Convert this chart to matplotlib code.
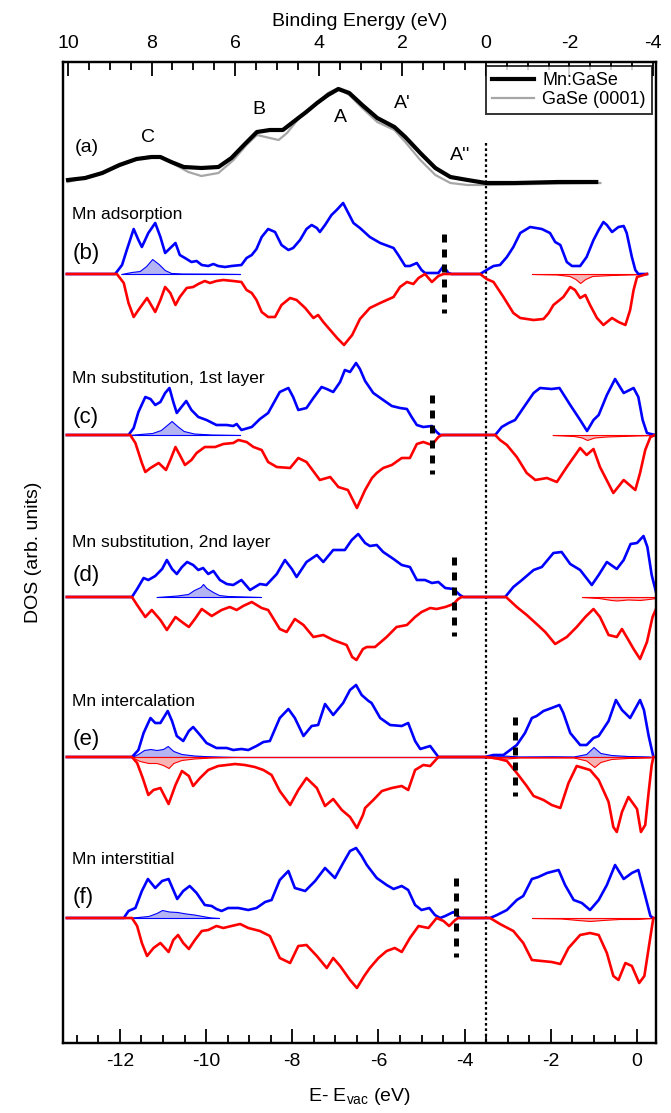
import matplotlib
matplotlib.use('Agg')
import matplotlib.pyplot as plt
import numpy as np
from matplotlib.ticker import MultipleLocator

plt.rcParams['font.family'] = ['Liberation Sans', 'DejaVu Sans']
plt.rcParams['mathtext.default'] = 'regular'
plt.rcParams['axes.unicode_minus'] = False

# ---- photoemission spectra (binding energy, intensity) ----
mngase = [(10.0, 6), (9.59, 8), (9.18, 13), (8.77, 21), (8.36, 27), (8.00, 29), (7.79, 29),
          (7.53, 24), (7.23, 19), (6.81, 18), (6.40, 19), (6.09, 28), (5.79, 41), (5.48, 54),
          (5.17, 56), (4.86, 56), (4.55, 66), (4.30, 74), (4.04, 83), (3.78, 91), (3.53, 97),
          (3.27, 93), (2.96, 81), (2.60, 68), (2.19, 59), (1.93, 49), (1.57, 33), (1.21, 18),
          (0.85, 9), (0.44, 6), (0.0, 3), (-0.69, 3), (-1.72, 4), (-2.64, 4)]
gase = [(10.0, 4), (9.18, 13), (8.36, 27), (8.00, 30), (7.74, 29), (7.43, 21), (7.12, 14),
        (6.81, 10), (6.40, 13), (6.04, 26), (5.73, 41), (5.48, 51), (5.17, 48), (4.96, 46),
        (4.76, 53), (4.45, 69), (4.04, 83), (3.78, 93), (3.53, 98), (3.27, 91), (2.96, 78),
        (2.60, 64), (2.19, 56), (1.93, 44), (1.57, 26), (1.21, 11), (0.85, 3), (0.44, 1),
        (0.0, 1), (-1.20, 2), (-2.74, 3)]

# ---- DOS: (E - Evac, value) ; up = spin up (blue), dn = spin down (red) ----
b_up = [(-13.23, 0), (-12.11, 0), (-11.95, 9), (-11.84, 24), (-11.68, 45), (-11.57, 34), (-11.49, 27),
        (-11.34, 41), (-11.18, 51), (-11.06, 37), (-10.95, 21), (-10.83, 26), (-10.71, 31), (-10.61, 19),
        (-10.49, 16), (-10.34, 12), (-10.22, 13), (-10.10, 9), (-9.95, 8), (-9.83, 10), (-9.72, 8),
        (-9.56, 7), (-9.41, 8), (-9.18, 9), (-9.06, 16), (-8.94, 19), (-8.83, 25), (-8.71, 37),
        (-8.56, 45), (-8.40, 42), (-8.25, 29), (-8.09, 24), (-7.98, 26), (-7.82, 34), (-7.67, 45),
        (-7.55, 49), (-7.43, 46), (-7.36, 42), (-7.24, 49), (-7.09, 59), (-6.97, 64), (-6.82, 71),
        (-6.70, 61), (-6.58, 51), (-6.43, 46), (-6.20, 37), (-5.96, 31), (-5.65, 26), (-5.54, 19),
        (-5.38, 8), (-5.27, 8), (-5.11, 11), (-5.00, 4), (-4.92, 1), (-4.61, 1), (-4.49, 8),
        (-4.38, 1), (-4.30, 0), (-3.64, 0), (-3.49, 4), (-3.33, 8), (-3.18, 9), (-3.02, 17),
        (-2.87, 27), (-2.71, 41), (-2.48, 47), (-2.21, 45), (-2.02, 41), (-1.90, 32), (-1.78, 29),
        (-1.63, 12), (-1.51, 8), (-1.32, 8), (-1.17, 17), (-1.01, 34), (-0.89, 44), (-0.78, 52),
        (-0.70, 49), (-0.58, 42), (-0.43, 47), (-0.31, 48), (-0.24, 41), (-0.12, 17), (-0.04, 4),
        (0.03, 0), (0.23, 0)]
b_dn = [(-13.23, 0), (-12.07, 0), (-11.91, -9), (-11.80, -29), (-11.68, -43), (-11.57, -36), (-11.37, -24),
        (-11.18, -38), (-11.06, -26), (-10.95, -13), (-10.83, -19), (-10.71, -31), (-10.61, -23),
        (-10.45, -14), (-10.30, -13), (-10.18, -10), (-10.03, -7), (-9.91, -9), (-9.76, -7), (-9.60, -6),
        (-9.37, -7), (-9.18, -8), (-9.06, -16), (-8.94, -19), (-8.83, -26), (-8.71, -38), (-8.56, -43),
        (-8.40, -43), (-8.25, -31), (-8.05, -24), (-7.90, -26), (-7.70, -34), (-7.51, -44), (-7.40, -41),
        (-7.28, -48), (-7.12, -56), (-6.96, -64), (-6.80, -71), (-6.61, -61), (-6.43, -45), (-6.20, -34),
        (-5.96, -29), (-5.65, -23), (-5.50, -13), (-5.34, -8), (-5.19, -10), (-5.07, -4), (-4.92, 0),
        (-4.76, -8), (-4.61, -2), (-4.49, 0), (-3.64, 0), (-3.49, -5), (-3.33, -8), (-3.10, -23),
        (-2.87, -39), (-2.71, -44), (-2.40, -46), (-2.17, -45), (-2.05, -39), (-1.94, -31), (-1.71, -23),
        (-1.55, -13), (-1.44, -16), (-1.32, -24), (-1.20, -21), (-1.09, -31), (-0.93, -44), (-0.78, -51),
        (-0.58, -44), (-0.43, -48), (-0.27, -51), (-0.16, -36), (-0.08, -16), (0.00, -3), (0.23, 0)]
b_mn_up = [(-11.97, 0), (-11.73, 2), (-11.54, 3), (-11.39, 8), (-11.25, 15), (-11.10, 10), (-10.96, 4),
           (-10.81, 1), (-10.57, 0.5), (-9.70, 0.3), (-9.21, 0)]
b_mn_dn = [(-2.44, 0), (-1.86, -0.5), (-1.57, -2), (-1.43, -5), (-1.32, -9), (-1.20, -5), (-1.04, -2),
           (-0.60, -1), (-0.02, -0.3), (0.23, 0)]

c_up = [(-13.23, 0), (-11.80, 0), (-11.68, 7), (-11.57, 23), (-11.41, 38), (-11.29, 36), (-11.18, 30),
        (-11.06, 33), (-10.95, 42), (-10.85, 47), (-10.76, 33), (-10.68, 22), (-10.59, 27), (-10.46, 34),
        (-10.34, 25), (-10.18, 18), (-9.99, 15), (-9.76, 10), (-9.52, 10), (-9.37, 9), (-9.29, 11),
        (-9.18, 5), (-8.94, 8), (-8.75, 16), (-8.56, 22), (-8.29, 43), (-8.09, 47), (-7.98, 38),
        (-7.86, 25), (-7.67, 27), (-7.51, 37), (-7.32, 48), (-7.20, 46), (-7.05, 43), (-6.89, 53),
        (-6.78, 65), (-6.66, 63), (-6.52, 72), (-6.43, 66), (-6.31, 54), (-6.12, 42), (-5.89, 35),
        (-5.69, 29), (-5.50, 27), (-5.34, 26), (-5.23, 18), (-5.11, 10), (-4.96, 8), (-4.76, 9),
        (-4.65, 3), (-4.57, 0), (-3.29, 0), (-3.14, 8), (-2.98, 12), (-2.83, 15), (-2.64, 27),
        (-2.40, 42), (-2.25, 47), (-1.98, 46), (-1.80, 47), (-1.55, 30), (-1.32, 15), (-1.16, 4),
        (-1.01, 15), (-0.89, 20), (-0.70, 40), (-0.51, 56), (-0.31, 42), (-0.08, 47), (0.03, 38),
        (0.13, 15), (0.23, 2), (0.42, 0)]
c_dn = [(-13.23, 0), (-11.76, 0), (-11.64, -8), (-11.49, -28), (-11.41, -37), (-11.29, -33), (-11.10, -28),
        (-10.93, -35), (-10.83, -25), (-10.71, -12), (-10.61, -20), (-10.49, -30), (-10.34, -25),
        (-10.22, -18), (-10.03, -12), (-9.79, -12), (-9.60, -9), (-9.37, -8), (-9.25, -5), (-9.06, -7),
        (-8.90, -12), (-8.71, -15), (-8.56, -27), (-8.36, -32), (-8.05, -33), (-7.86, -23), (-7.67, -27),
        (-7.36, -45), (-7.12, -42), (-6.93, -52), (-6.71, -55), (-6.50, -73), (-6.31, -55), (-6.15, -43),
        (-6.04, -38), (-5.89, -33), (-5.69, -30), (-5.46, -23), (-5.27, -23), (-5.11, -9), (-4.96, -7),
        (-4.76, -10), (-4.61, -2), (-4.53, 0), (-3.29, 0), (-3.18, -5), (-3.02, -10), (-2.79, -22),
        (-2.56, -38), (-2.36, -45), (-2.09, -43), (-1.86, -47), (-1.63, -32), (-1.32, -13), (-1.17, -20),
        (-1.01, -14), (-0.86, -32), (-0.55, -58), (-0.31, -45), (-0.04, -55), (0.07, -38), (0.19, -15),
        (0.31, -2), (0.42, 0)]
c_mn_up = [(-11.78, 0), (-11.54, 1), (-11.25, 2), (-11.05, 5), (-10.91, 10), (-10.80, 14), (-10.67, 9),
           (-10.52, 4), (-10.28, 1.5), (-9.89, 0.5), (-9.21, 0)]
c_mn_dn = [(-1.96, 0), (-1.47, -1), (-1.28, -2.5), (-1.16, -5), (-0.99, -2.5), (-0.70, -1.5),
           (-0.02, -0.5), (0.42, 0)]

d_up = [(-13.23, 0), (-11.72, 0), (-11.60, 8), (-11.45, 19), (-11.34, 17), (-11.18, 21), (-11.02, 28),
        (-10.91, 37), (-10.79, 28), (-10.68, 23), (-10.56, 30), (-10.44, 35), (-10.30, 32), (-10.18, 27),
        (-10.07, 29), (-9.95, 23), (-9.83, 26), (-9.68, 17), (-9.52, 13), (-9.37, 12), (-9.18, 17),
        (-8.98, 7), (-8.75, 13), (-8.60, 12), (-8.36, 23), (-8.17, 37), (-8.01, 28), (-7.90, 20),
        (-7.67, 35), (-7.43, 42), (-7.28, 35), (-7.05, 47), (-6.78, 47), (-6.62, 57), (-6.47, 63),
        (-6.31, 54), (-6.20, 51), (-6.04, 52), (-5.89, 45), (-5.65, 38), (-5.46, 32), (-5.27, 30),
        (-5.11, 17), (-4.92, 17), (-4.76, 14), (-4.61, 15), (-4.45, 9), (-4.26, 8), (-4.11, 2),
        (-4.03, 0), (-3.06, 0), (-2.87, 10), (-2.67, 17), (-2.40, 27), (-2.21, 30), (-1.94, 44),
        (-1.75, 45), (-1.55, 33), (-1.32, 27), (-1.05, 12), (-0.89, 22), (-0.70, 35), (-0.47, 28),
        (-0.31, 37), (-0.15, 53), (0.00, 54), (0.15, 61), (0.24, 50), (0.34, 22), (0.44, 5)]
d_dn = [(-13.23, 0), (-11.72, 0), (-11.60, -8), (-11.41, -20), (-11.26, -13), (-11.06, -23), (-10.91, -33),
        (-10.71, -20), (-10.56, -25), (-10.40, -30), (-10.26, -22), (-10.10, -12), (-9.87, -19),
        (-9.64, -13), (-9.45, -10), (-9.29, -13), (-9.14, -9), (-8.94, -5), (-8.71, -11), (-8.56, -13),
        (-8.29, -32), (-8.13, -35), (-7.94, -22), (-7.74, -28), (-7.51, -40), (-7.28, -38), (-7.05, -43),
        (-6.74, -48), (-6.61, -60), (-6.51, -63), (-6.36, -52), (-6.27, -50), (-6.08, -50), (-5.81, -40),
        (-5.58, -30), (-5.34, -28), (-5.15, -20), (-5.00, -15), (-4.80, -11), (-4.65, -12), (-4.45, -10),
        (-4.26, -7), (-4.15, -2), (-4.07, 0), (-3.04, 0), (-2.79, -10), (-2.56, -18), (-2.33, -27),
        (-2.13, -35), (-1.90, -47), (-1.63, -40), (-1.40, -30), (-1.20, -20), (-1.01, -12), (-0.86, -20),
        (-0.66, -38), (-0.47, -40), (-0.35, -32), (-0.20, -43), (-0.08, -52), (0.07, -62), (0.23, -45),
        (0.36, -20), (0.44, -12)]
d_mn_up = [(-11.15, 0), (-10.67, 1.5), (-10.42, 3), (-10.28, 7), (-10.13, 10), (-10.07, 13), (-9.99, 9),
           (-9.84, 5), (-9.70, 2), (-9.50, 1), (-9.12, 0.5), (-8.73, 0)]
d_mn_dn = [(-1.28, 0), (-0.89, -1), (-0.60, -3), (-0.47, -3.5), (-0.22, -2.5), (0.07, -3), (0.27, -2),
           (0.44, -1)]

e_up = [(-13.23, 0), (-11.72, 0), (-11.57, 7), (-11.45, 24), (-11.29, 39), (-11.18, 34), (-11.06, 34),
        (-10.89, 46), (-10.79, 36), (-10.68, 21), (-10.53, 16), (-10.40, 26), (-10.30, 30), (-10.14, 22),
        (-9.99, 14), (-9.76, 9), (-9.52, 9), (-9.37, 7), (-9.18, 8), (-9.02, 7), (-8.83, 11), (-8.67, 15),
        (-8.52, 16), (-8.29, 39), (-8.09, 48), (-7.94, 39), (-7.74, 21), (-7.55, 31), (-7.40, 32),
        (-7.24, 53), (-7.05, 42), (-6.82, 54), (-6.66, 67), (-6.52, 72), (-6.39, 62), (-6.23, 56),
        (-6.16, 54), (-5.96, 39), (-5.73, 32), (-5.46, 31), (-5.31, 34), (-5.15, 16), (-5.03, 8),
        (-4.80, 11), (-4.61, 0), (-3.53, 0), (-3.33, 2), (-3.10, 2), (-2.79, 12), (-2.60, 24),
        (-2.44, 39), (-2.33, 41), (-2.17, 46), (-1.98, 49), (-1.80, 52), (-1.71, 44), (-1.55, 24),
        (-1.32, 12), (-1.17, 12), (-1.01, 19), (-0.89, 21), (-0.66, 36), (-0.49, 57), (-0.35, 47),
        (-0.16, 39), (0.07, 57), (0.16, 47), (0.27, 21), (0.38, 0)]
e_dn = [(-13.23, 0), (-11.72, 0), (-11.60, -6), (-11.47, -21), (-11.34, -38), (-11.22, -33), (-11.06, -31),
        (-10.87, -47), (-10.71, -28), (-10.56, -14), (-10.40, -19), (-10.30, -29), (-10.14, -21),
        (-9.95, -13), (-9.72, -9), (-9.52, -8), (-9.33, -7), (-9.10, -8), (-8.87, -10), (-8.67, -13),
        (-8.48, -18), (-8.29, -34), (-8.05, -48), (-7.86, -33), (-7.67, -21), (-7.43, -31), (-7.24, -49),
        (-7.05, -42), (-6.85, -53), (-6.66, -60), (-6.50, -71), (-6.36, -58), (-6.31, -51), (-6.12, -43),
        (-5.92, -34), (-5.69, -31), (-5.46, -29), (-5.31, -33), (-5.15, -13), (-4.96, -8), (-4.80, -9),
        (-4.61, 0), (-3.53, 0), (-3.29, -1), (-3.02, -4), (-2.79, -16), (-2.56, -29), (-2.40, -39),
        (-2.17, -43), (-1.98, -48), (-1.78, -51), (-1.59, -26), (-1.40, -9), (-1.09, -13), (-0.89, -23),
        (-0.66, -45), (-0.55, -70), (-0.47, -75), (-0.35, -55), (-0.20, -40), (0.00, -52), (0.09, -75),
        (0.19, -68), (0.27, -35), (0.34, -8), (0.38, 0)]
e_mn_up = [(-11.73, 0), (-11.58, 3), (-11.44, 7), (-11.29, 8), (-11.15, 7), (-11.00, 8), (-10.89, 11),
           (-10.76, 6), (-10.57, 3), (-10.28, 1.5), (-9.99, 0.8), (-9.60, 0.3), (-9.21, 0),
           (-3.51, 0), (-3.31, 1.5), (-3.02, 1.3), (-2.73, 0.5), (-1.96, 0.7), (-1.47, 0.5), (-1.18, 3),
           (-1.01, 10), (-0.85, 4), (-0.60, 2), (-0.22, 1), (0.27, 0.5), (0.38, 0)]
e_mn_dn = [(-11.73, 0), (-11.54, -4), (-11.34, -6), (-11.15, -6), (-11.00, -8), (-10.87, -11),
           (-10.76, -6), (-10.57, -3), (-10.28, -1.5), (-9.89, -0.5), (-9.31, 0),
           (-3.51, 0), (-3.31, -1.5), (-3.02, -1.5), (-2.73, -0.5), (-1.96, -0.5), (-1.47, -0.5),
           (-1.18, -3.5), (-0.99, -10), (-0.85, -5), (-0.60, -2), (-0.22, -1), (0.27, -0.5), (0.38, 0)]

f_up = [(-13.23, 0), (-11.91, 0), (-11.80, 7), (-11.64, 10), (-11.49, 27), (-11.35, 39), (-11.18, 30),
        (-11.02, 37), (-10.87, 39), (-10.76, 28), (-10.67, 19), (-10.53, 27), (-10.38, 32), (-10.22, 25),
        (-10.03, 13), (-9.87, 12), (-9.76, 9), (-9.64, 7), (-9.49, 10), (-9.25, 10), (-9.02, 8),
        (-8.83, 10), (-8.63, 16), (-8.48, 18), (-8.29, 38), (-8.09, 47), (-7.94, 30), (-7.70, 27),
        (-7.47, 37), (-7.24, 50), (-7.01, 40), (-6.82, 55), (-6.66, 67), (-6.52, 70), (-6.39, 62),
        (-6.27, 53), (-6.04, 40), (-5.81, 33), (-5.65, 29), (-5.46, 32), (-5.31, 28), (-5.15, 13),
        (-5.00, 8), (-4.82, 10), (-4.69, 3), (-4.57, 0), (-4.45, 2), (-4.26, 6), (-4.11, 0), (-3.41, 0),
        (-3.25, 3), (-3.02, 8), (-2.79, 18), (-2.64, 22), (-2.44, 39), (-2.29, 41), (-2.09, 45),
        (-1.82, 48), (-1.67, 33), (-1.47, 18), (-1.28, 15), (-1.09, 8), (-0.89, 18), (-0.70, 33),
        (-0.51, 53), (-0.31, 39), (-0.12, 45), (0.03, 48), (0.19, 22), (0.31, 2), (0.38, 0)]
f_dn = [(-13.23, 0), (-11.72, 0), (-11.60, -8), (-11.49, -25), (-11.37, -38), (-11.22, -30), (-11.06, -25),
        (-10.87, -34), (-10.76, -22), (-10.65, -17), (-10.53, -25), (-10.40, -31), (-10.26, -22),
        (-10.10, -13), (-9.95, -12), (-9.76, -8), (-9.60, -10), (-9.41, -8), (-9.21, -6), (-9.02, -10),
        (-8.75, -13), (-8.52, -18), (-8.29, -40), (-8.05, -45), (-7.86, -28), (-7.67, -27), (-7.43, -38),
        (-7.20, -50), (-7.05, -40), (-6.89, -48), (-6.66, -62), (-6.50, -70), (-6.33, -58), (-6.20, -50),
        (-6.00, -40), (-5.81, -33), (-5.62, -30), (-5.46, -34), (-5.27, -20), (-5.07, -8), (-4.84, -10),
        (-4.65, 0), (-4.49, -3), (-4.36, -8), (-4.22, -2), (-4.15, 0), (-3.41, 0), (-3.18, -6),
        (-2.87, -13), (-2.64, -25), (-2.44, -42), (-2.21, -43), (-1.98, -44), (-1.78, -46), (-1.59, -30),
        (-1.32, -17), (-1.09, -15), (-0.89, -17), (-0.70, -35), (-0.55, -58), (-0.43, -62), (-0.27, -45),
        (-0.12, -48), (0.05, -65), (0.17, -58), (0.27, -30), (0.36, -5), (0.38, 0)]
f_mn_up = [(-11.92, 0), (-11.63, 0.8), (-11.34, 2), (-11.15, 5), (-11.02, 8), (-10.86, 6.5), (-10.67, 6),
           (-10.47, 4.5), (-10.28, 3.5), (-10.09, 2), (-9.89, 0.5), (-9.70, 0)]
f_mn_dn = [(-2.44, 0), (-1.76, -0.5), (-1.38, -2), (-1.09, -3), (-0.80, -2), (-0.41, -1), (-0.02, -1),
           (0.38, 0)]

panel_names = ['Mn adsorption', 'Mn substitution, 1st layer', 'Mn substitution, 2nd layer',
               'Mn intercalation', 'Mn interstitial']
panel_tags = ['(b)', '(c)', '(d)', '(e)', '(f)']
fermi_marks = [-4.49, -4.76, -4.24, -2.83, -4.20]   # thick dashed markers
be_zero = -3.51                                      # E - Evac where binding energy is 0

# layout (y in figure-pixel units, measured from bottom)
H = 1113
offsets = [H - 274, H - 435, H - 597, H - 757, H - 918]
spec_off = H - 186
label_y = [H - 215, H - 378, H - 542, H - 702, H - 860]
tag_y = [H - 253, H - 418, H - 575, H - 740, H - 898]

fig = plt.figure(figsize=(6.71, 11.13), dpi=100)
ax_top_px, ax_bot_px, ax_l_px, ax_r_px = 62, 1043, 63, 656
ax = fig.add_axes([ax_l_px / 671, (H - ax_bot_px) / H, (ax_r_px - ax_l_px) / 671,
                   (ax_bot_px - ax_top_px) / H])
ax.set_xlim(-13.32, 0.44)
ax.set_ylim(H - ax_bot_px, H - ax_top_px)

blue, red = '#0000ff', '#ff0000'
panels = [(b_up, b_dn, b_mn_up, b_mn_dn), (c_up, c_dn, c_mn_up, c_mn_dn),
          (d_up, d_dn, d_mn_up, d_mn_dn), (e_up, e_dn, e_mn_up, e_mn_dn),
          (f_up, f_dn, f_mn_up, f_mn_dn)]

for i, (up, dn, mup, mdn) in enumerate(panels):
    off = offsets[i]
    me, mv = np.array(mup).T
    ax.fill_between(me, off, off + mv, facecolor='#b4b4f2', edgecolor=blue, lw=0.8, zorder=2)
    me, mv = np.array(mdn).T
    ax.fill_between(me, off, off + mv, facecolor='#f6b4b4', edgecolor=red, lw=0.8, zorder=2)
    e, v = np.array(up).T
    ax.plot(e, off + v, color=blue, lw=1.9, solid_joinstyle='round', zorder=3)
    e, v = np.array(dn).T
    ax.plot(e, off + v, color=red, lw=1.9, solid_joinstyle='round', zorder=4)
    ax.plot([fermi_marks[i]] * 2, [off + 40, off - 39], color='black', lw=3.6,
            linestyle=(0, (1.6, 1.4)), zorder=5)
    ax.text(-13.11, label_y[i], panel_names[i], fontsize=12.5, va='center', ha='left')
    ax.text(-13.09, tag_y[i], panel_tags[i], fontsize=16, va='center', ha='left')

# vertical line at binding energy 0
ax.plot([be_zero, be_zero], [H - 143, H - ax_bot_px], color='black', lw=1.6,
        linestyle=(0, (1.2, 1.2)), zorder=1)

# top axis: binding energy
ax2 = ax.twiny()
ax2.set_xlim(10.12, -4.07)
be, iv = np.array(gase).T
ax2.plot(be, spec_off + iv, color='#a6a6a6', lw=1.6, label='GaSe (0001)', zorder=2)
be, iv = np.array(mngase).T
ax2.plot(be, spec_off + iv, color='black', lw=3.0, label='Mn:GaSe', zorder=3)
h, l = ax2.get_legend_handles_labels()
leg = ax2.legend(h[::-1], l[::-1], loc='upper right', bbox_to_anchor=(0.993, 0.996),
                 borderaxespad=0, fontsize=13, frameon=True, fancybox=False, edgecolor='black',
                 handlelength=2.3, borderpad=0.35, labelspacing=0.1, handletextpad=0.45)
leg.get_frame().set_linewidth(1.4)

ax2.text(9.85, H - 147, '(a)', fontsize=14, va='center', ha='left')
peak_labels = [('C', 8.09, H - 137), ('B', 5.44, H - 110), ('A', 3.49, H - 117),
               ("A'", 2.01, H - 104), ("A''", 0.62, H - 155)]
for s, x, y in peak_labels:
    ax2.text(x, y, s, fontsize=14, ha='center', va='center')

for a in (ax, ax2):
    a.xaxis.set_major_locator(MultipleLocator(2))
    a.xaxis.set_minor_locator(MultipleLocator(0.5))
    a.tick_params(axis='x', which='major', direction='in', length=10, width=1.3,
                  labelsize=14, pad=7)
    a.tick_params(axis='x', which='minor', direction='in', length=5.5, width=1.3)
    for sp in a.spines.values():
        sp.set_linewidth(1.6)
ax.tick_params(axis='x', top=False, which='both')
ax.set_yticks([])
ax2.set_yticks([])

ax.set_xlabel(r'E- E$_{vac}$ (eV)', fontsize=14, labelpad=12)
ax2.set_xlabel('Binding Energy (eV)', fontsize=14, labelpad=7)
ax.set_ylabel('DOS (arb. units)', fontsize=14)
ax.yaxis.set_label_coords(-0.036, 0.5)

fig.savefig('out.png', dpi=100)
